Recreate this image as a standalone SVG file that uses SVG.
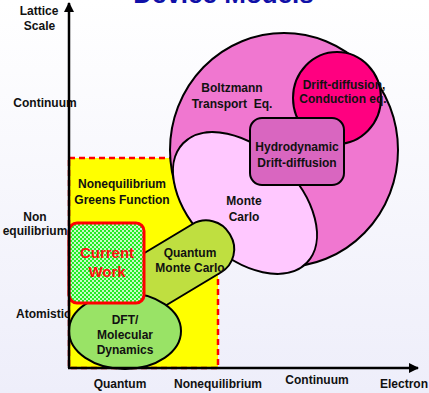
<svg xmlns="http://www.w3.org/2000/svg" width="429" height="393" viewBox="0 0 429 393">
<defs>
<linearGradient id="bg" x1="0" y1="0" x2="0" y2="1">
<stop offset="0" stop-color="#FFFFFF"/>
<stop offset="1" stop-color="#EEEEFA"/>
</linearGradient>
<pattern id="check" width="4" height="4" patternUnits="userSpaceOnUse">
<rect width="4" height="4" fill="#22EE22"/>
<circle cx="1" cy="1" r="1" fill="#FFFFFF"/>
<circle cx="3" cy="3" r="1" fill="#FFFFFF"/>
</pattern>
<marker id="arr" viewBox="0 0 10 10" refX="9" refY="5" markerWidth="5" markerHeight="4" markerUnits="strokeWidth" orient="auto">
<path d="M0,0 L10,5 L0,10 z" fill="#000"/>
</marker>
</defs>
<style>
text{font-family:"Liberation Sans",Arial,sans-serif;font-weight:bold;font-size:12px;fill:#111;}
.c{text-anchor:middle;}
.shape{stroke:#000;stroke-width:2;}
</style>
<rect width="429" height="393" fill="url(#bg)"/>
<text x="223.5" y="3" class="c" style="font-size:26px;fill:#1010A8">Device Models</text>

<g id="axis-labels">
<text x="39" y="15" class="c">Lattice</text>
<text x="39.5" y="30" class="c">Scale</text>
<text x="45" y="107" class="c">Continuum</text>
<text x="35" y="221" class="c">Non</text>
<text x="35" y="235" class="c">equilibrium</text>
<text x="16" y="318">Atomistic</text>
<text x="120" y="388" class="c">Quantum</text>
<text x="218" y="388" class="c">Nonequilibrium</text>
<text x="317" y="384" class="c">Continuum</text>
<text x="380" y="388">Electron</text>
</g>

<g id="negf">
<rect x="69" y="158" width="149" height="210" fill="#FFFF00" stroke="#FF0000" stroke-width="2.5" stroke-dasharray="6 4"/>
<text x="122" y="188" class="c">Nonequilibrium</text>
<text x="122" y="204" class="c">Greens Function</text>
</g>

<g id="boltzmann">
<ellipse cx="284" cy="150" rx="114" ry="117" fill="#F077D0" class="shape"/>
<text x="232" y="92" class="c">Boltzmann</text>
<text x="232" y="108" class="c" xml:space="preserve">Transport  Eq.</text>
</g>

<g id="monte-carlo">
<ellipse cx="0" cy="0" rx="86" ry="53" transform="translate(245,203) rotate(44)" fill="#FFC8FF" class="shape"/>
<text x="244" y="205" class="c">Monte</text>
<text x="244" y="221" class="c">Carlo</text>
</g>

<g id="drift-diffusion">
<ellipse cx="337" cy="98" rx="44" ry="46" fill="#FF0080" class="shape"/>
<text x="344" y="89" class="c">Drift-diffusion,</text>
<text x="343" y="103" class="c">Conduction eq.</text>
</g>

<g id="hydrodynamic">
<rect x="250" y="118" width="94" height="67" rx="12" fill="#D966C0" class="shape"/>
<text x="297" y="151" class="c">Hydrodynamic</text>
<text x="297" y="167" class="c">Drift-diffusion</text>
</g>

<g id="quantum-monte-carlo">
<rect x="-78" y="-28" width="156" height="56" rx="27" transform="translate(163,274.5) rotate(-31)" fill="#BFDF40" class="shape"/>
<text x="190" y="257" class="c">Quantum</text>
<text x="190" y="272" class="c">Monte Carlo</text>
</g>

<g id="dft">
<ellipse cx="125" cy="331" rx="56" ry="38" fill="#99E366" class="shape"/>
<text x="125" y="324" class="c">DFT/</text>
<text x="125" y="339" class="c">Molecular</text>
<text x="125" y="354" class="c">Dynamics</text>
</g>

<g id="current-work">
<rect x="69" y="223" width="75" height="80" rx="8" fill="url(#check)" stroke="#FF0000" stroke-width="3"/>
<text x="107" y="258" class="c" style="font-size:15px;fill:#FF1010">Current</text>
<text x="107" y="277" class="c" style="font-size:15px;fill:#FF1010">Work</text>
</g>

<g id="connectors">
<line x1="69" y1="368" x2="69" y2="3" stroke="#000" stroke-width="2.5" marker-end="url(#arr)"/>
<line x1="68" y1="368" x2="418" y2="368" stroke="#000" stroke-width="2.5" marker-end="url(#arr)"/>
</g>
</svg>
